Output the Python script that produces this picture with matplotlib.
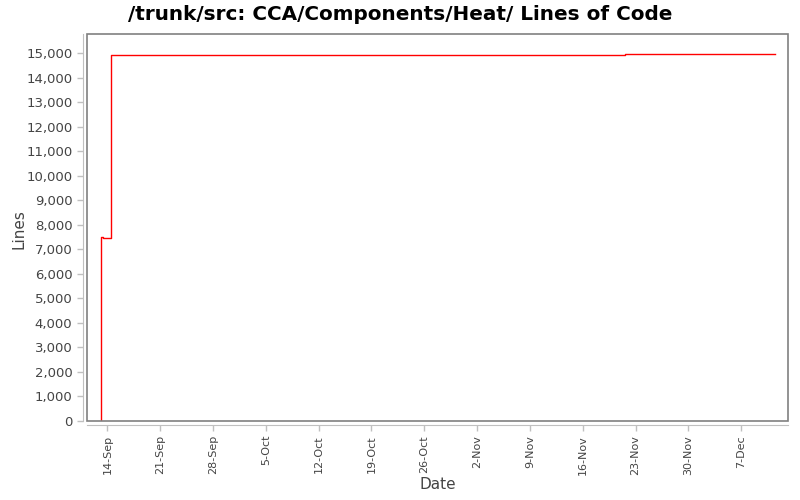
import matplotlib
matplotlib.use("Agg")
import matplotlib.pyplot as plt
import matplotlib.dates as mdates
from matplotlib.patches import Rectangle
import pandas as pd

# Data (step series: lines of code over time)
dates = ["2008-09-13 02:00", "2008-09-13 11:00", "2008-09-14 11:00",
         "2008-11-21 16:00", "2008-12-11 13:00"]
lines = [7510, 7440, 14920, 14970, 14970]
start_date = "2008-09-13 02:00"
start_value = 0

tick_dates = pd.date_range("2008-09-14", periods=13, freq="7D")
ytick_values = list(range(0, 15001, 1000))

title = "/trunk/src: CCA/Components/Heat/ Lines of Code"
xlabel = "Date"
ylabel = "Lines"

x = pd.to_datetime([start_date] + dates)
y = [start_value] + lines

fig = plt.figure(figsize=(8, 5), dpi=100)
ax = fig.add_axes([87/800, 1-421/500, (788-87)/800, (421-34)/500])

ax.step(x, y, where="post", color="#ff0000", linewidth=1.0)

ax.set_xlim(pd.Timestamp("2008-09-11 07:00"), pd.Timestamp("2008-12-13 05:00"))
ax.set_ylim(-15, 15790)

ax.set_xticks(tick_dates)
ax.xaxis.set_major_formatter(mdates.DateFormatter("%-d-%b"))
ax.set_yticks(ytick_values)
ax.set_yticklabels([f"{v:,}" for v in ytick_values])

ax.tick_params(axis="both", colors="#c0c0c0", labelcolor="#444444",
               length=4, width=1)
ax.tick_params(axis="y", labelsize=9.5)
ax.tick_params(axis="x", labelrotation=90, labelsize=8, pad=3)

# plot border
for s in ["top", "right"]:
    ax.spines[s].set_visible(False)
for s in ["left", "bottom"]:
    ax.spines[s].set_position(("outward", 3))
    ax.spines[s].set_color("#c0c0c0")
ax.add_patch(Rectangle((0, 0), 1, 1, transform=ax.transAxes, fill=False,
                       edgecolor="#808080", linewidth=1.2, clip_on=False, zorder=5))

ax.set_xlabel(xlabel, fontsize=11, color="#444444")
ax.set_ylabel(ylabel, fontsize=11, color="#444444")
ax.xaxis.set_label_coords(0.5, -0.145)
ax.yaxis.set_label_coords(-0.087, 0.496)
fig.text(0.5, 1-14/500, title, ha="center", va="center",
         fontsize=14.4, fontweight="bold", color="black")

fig.savefig("out.png", dpi=100)
